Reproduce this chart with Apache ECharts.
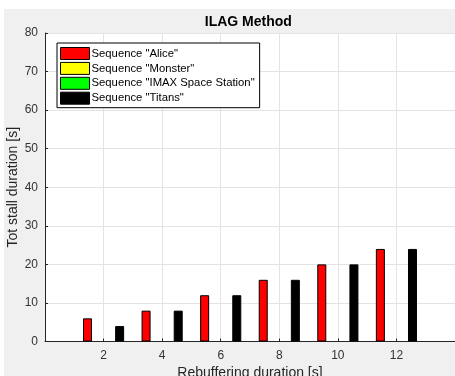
<!DOCTYPE html>
<html>
<head>
<meta charset="utf-8">
<script src="https://cdn.jsdelivr.net/npm/echarts@6/dist/echarts.min.js"></script>
<style>
  html, body { margin: 0; padding: 0; background: #ffffff; }
  #chart { position: absolute; left: 4px; top: 9px; width: 451px; height: 367px; }
</style>
</head>
<body>
<div id="chart"></div>
<script>
// Rebuffering durations (s) on the x axis
const rebufferingDurations = [2, 4, 6, 8, 10, 12];

// Total stall duration (s) per sequence
const seriesNames = ['Sequence "Alice"', 'Sequence "Monster"', 'Sequence "IMAX Space Station"', 'Sequence "Titans"'];
const aliceStall   = [6, 8, 12, 16, 20, 24];
const monsterStall = [0, 0, 0, 0, 0, 0];
const imaxStall    = [0, 0, 0, 0, 0, 0];
const titansStall  = [4, 8, 12, 16, 20, 24];
const seriesColors = ['#ff0000', '#ffff00', '#00ff00', '#000000'];

// Axis ranges and ticks
const xMin = 0, xMax = 14, xStep = 2;
const yMin = 0, yMax = 80, yStep = 10;

const FONT = '"Liberation Sans", Arial, Helvetica, sans-serif';
const allValues = [aliceStall, monsterStall, imaxStall, titansStall];

const chart = echarts.init(document.getElementById('chart'), null, { renderer: 'canvas' });

// zero-height bars get no outline so they vanish into the baseline
const series = seriesNames.map((name, i) => ({
  name: name,
  type: 'bar',
  data: rebufferingDurations.map((x, j) => ({
    value: [x, allValues[i][j]],
    itemStyle: allValues[i][j] === 0 ? { borderWidth: 0 } : undefined
  })),
  barWidth: 9,
  barGap: '19%',
  itemStyle: { color: seriesColors[i], borderColor: '#000000', borderWidth: 1 },
  emphasis: { disabled: true },
  animation: false
}));

chart.setOption({
  backgroundColor: '#f0f0f0',
  animation: false,
  textStyle: { fontFamily: FONT },
  title: {
    text: 'ILAG Method',
    left: 244.3,
    top: 6,
    textAlign: 'center',
    padding: 0,
    textStyle: { fontFamily: FONT, fontSize: 14, fontWeight: 'bold', color: '#000000' }
  },
  grid: {
    left: 41, right: 0, top: 24, bottom: 34.5,
    outerBoundsMode: 'none',
    containLabel: false,
    show: true, backgroundColor: '#ffffff', borderWidth: 0
  },
  legend: {
    orient: 'vertical',
    left: 53, top: 34,
    padding: [4, 5, 3, 3],
    itemWidth: 29, itemHeight: 12, itemGap: 1.9,
    backgroundColor: '#ffffff',
    borderColor: '#000000', borderWidth: 1,
    icon: 'rect',
    selectedMode: false,
    itemStyle: { borderColor: '#000000', borderWidth: 1 },
    textStyle: { fontFamily: FONT, fontSize: 11.3, color: '#000000', lineHeight: 12, padding: [0, 0, 0, -3] },
    data: seriesNames.map((n, i) => ({ name: n, itemStyle: { color: seriesColors[i], borderColor: '#000000', borderWidth: 1 } }))
  },
  xAxis: {
    type: 'value',
    min: xMin, max: xMax, interval: xStep,
    name: 'Rebuffering duration [s]',
    nameLocation: 'middle',
    nameMoveOverlap: false,
    nameGap: 25,
    nameTextStyle: { fontFamily: FONT, fontSize: 14, color: '#262626' },
    axisLine: { show: true, lineStyle: { color: '#262626', width: 1 } },
    axisTick: { show: true, inside: true, length: 3, lineStyle: { color: '#262626' } },
    axisLabel: { showMinLabel: false, showMaxLabel: false, margin: 8, fontFamily: FONT, fontSize: 12, color: '#333333' },
    splitLine: { show: true, lineStyle: { color: '#e3e3e3', width: 1 } }
  },
  yAxis: {
    type: 'value',
    min: yMin, max: yMax, interval: yStep,
    name: 'Tot stall duration [s]',
    nameLocation: 'middle',
    nameMoveOverlap: false,
    nameGap: 25,
    nameTextStyle: { fontFamily: FONT, fontSize: 14, color: '#262626' },
    axisLine: { show: true, lineStyle: { color: '#262626', width: 1 } },
    axisTick: { show: true, inside: true, length: 3, lineStyle: { color: '#262626' } },
    axisLabel: { margin: 7, fontFamily: FONT, fontSize: 12, color: '#333333' },
    splitLine: { show: true, lineStyle: { color: '#e3e3e3', width: 1 } }
  },
  series: series
});
</script>
</body>
</html>
